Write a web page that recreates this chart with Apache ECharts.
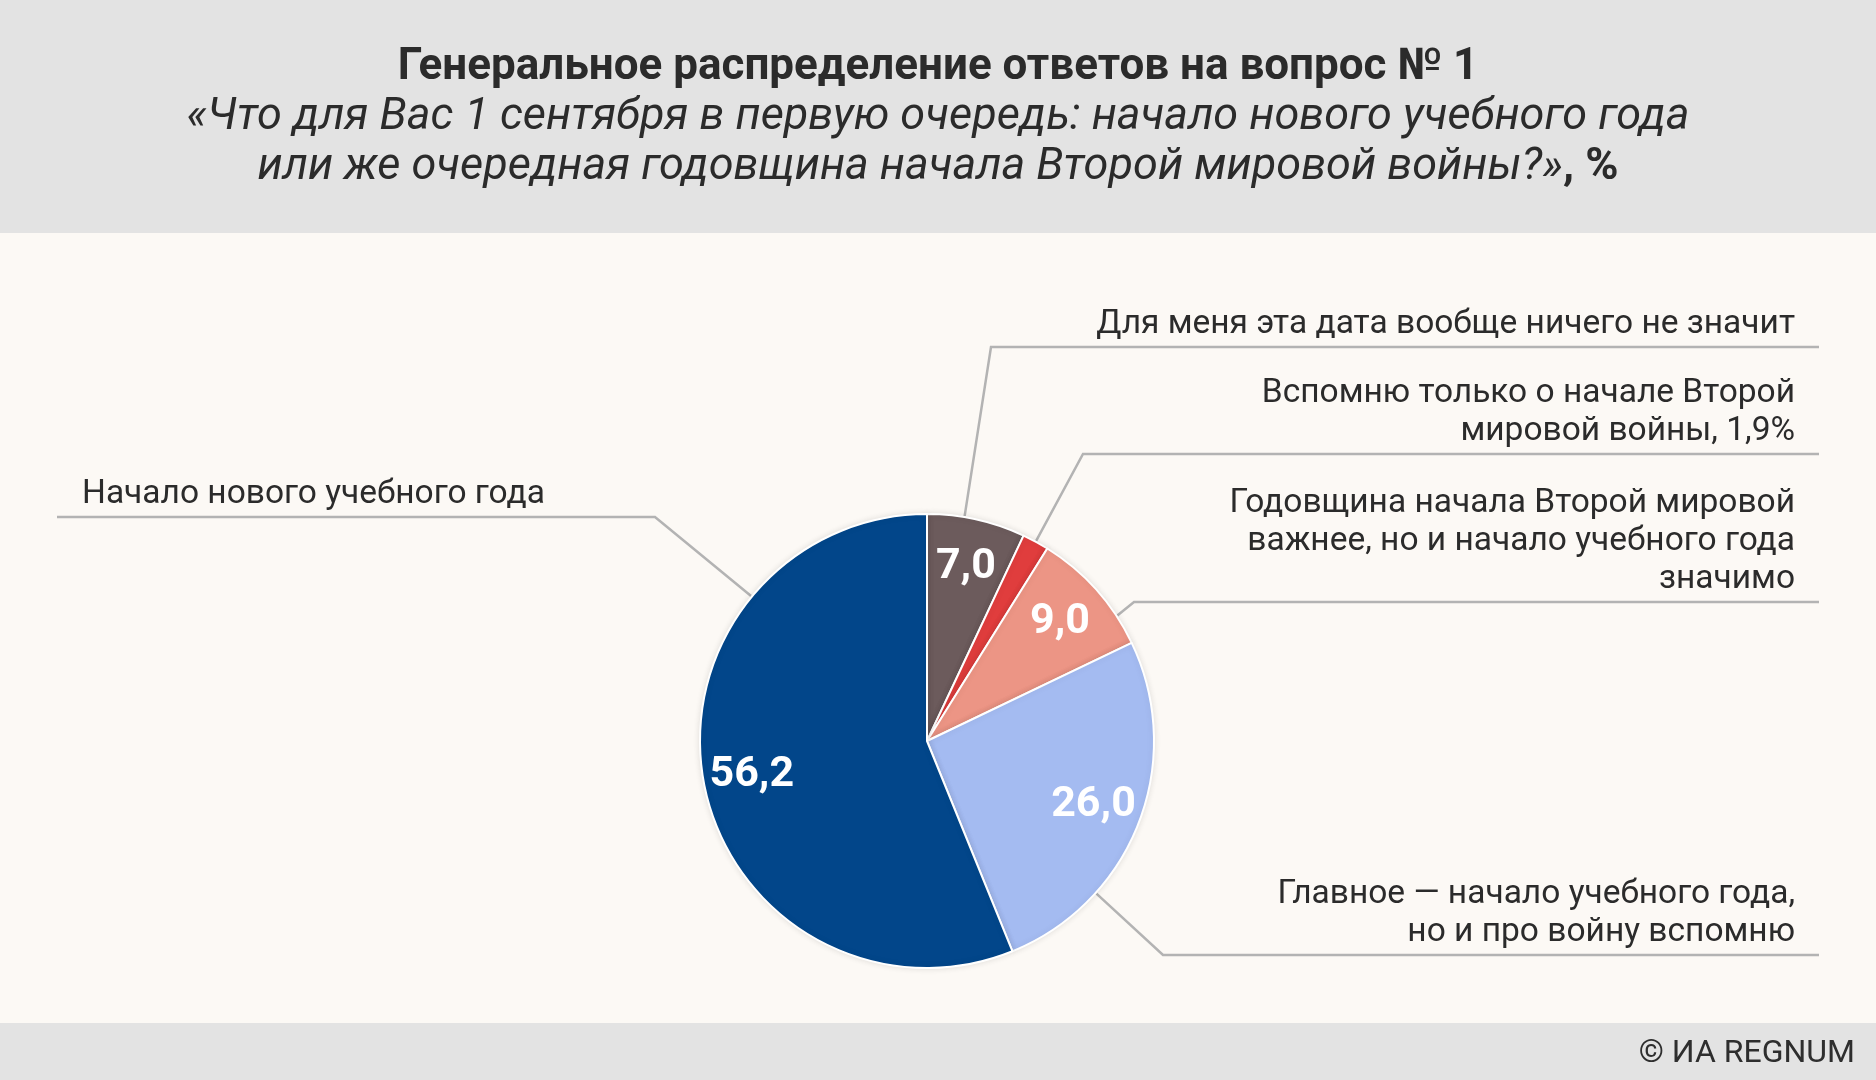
<!DOCTYPE html>
<html>
<head>
<meta charset="utf-8">
<script src="https://cdn.jsdelivr.net/npm/echarts@6/dist/echarts.min.js"></script>
<style>
html,body{margin:0;padding:0;background:#fcf9f5;}
#c{width:1876px;height:1080px;}
</style>
</head>
<body>
<div id="c"></div>
<script>
// ---------- DATA ----------
const CATEGORIES = [
  'Для меня эта дата вообще ничего не значит',
  'Вспомню только о начале Второй\nмировой войны',
  'Годовщина начала Второй мировой\nважнее, но и начало учебного года\nзначимо',
  'Главное — начало учебного года,\nно и про войну вспомню',
  'Начало нового учебного года'
];
const VALUES = [7.0, 1.9, 9.0, 26.0, 56.2];
const VALUE_INSIDE = [true, false, true, true, true];
const COLORS = ['#6c5b5c', '#e03d3d', '#ec9585', '#a4bbf1', '#02468a'];
const TITLE = 'Генеральное распределение ответов на вопрос № 1';
const SUBTITLE_1 = '«Что для Вас 1 сентября в первую очередь: начало нового учебного года';
const SUBTITLE_2 = 'или же очередная годовщина начала Второй мировой войны?»';
const SUBTITLE_UNIT = ', %';
const SOURCE = '© ИА REGNUM';

// ---------- LAYOUT ----------
const W = 1876, H = 1080;
const CENTER = [927, 741];
const R = 227;
const FONT = "Roboto, 'Noto Sans', sans-serif";
// leader lines: start angle on the rim (deg, clockwise from top), bend x, underline y
const LEADERS = [
  {angle: 9.5,   bendX: 991,  lineY: 347},
  {angle: 28.6,  bendX: 1083, lineY: 454},
  {angle: 56.6,  bendX: 1134, lineY: 602},
  {angle: 132,   bendX: 1163, lineY: 955},
  {angle: 309.5, bendX: 655,  lineY: 517}
];
const LINE_RIGHT = 1819, LINE_LEFT = 57, TEXT_RIGHT = 1795, TEXT_LEFT = 82, TEXT_GAP = 3;

function fmt(v) { return v.toFixed(1).replace('.', ','); }

const pieData = VALUES.map((v, i) => ({ value: v, name: CATEGORIES[i], itemStyle: { color: COLORS[i] } }));

const chart = echarts.init(document.getElementById('c'), null, { renderer: 'canvas', width: W, height: H });

chart.setOption({
  backgroundColor: '#fcf9f5',
  animation: false,
  graphic: [
    { type: 'rect', silent: true, z: -10, shape: { x: 0, y: 0, width: W, height: 233 }, style: { fill: '#e3e3e3' } },
    { type: 'rect', silent: true, z: -10, shape: { x: 0, y: 1023, width: W, height: H - 1023 }, style: { fill: '#e3e3e3' } },
    { type: 'text', x: 938, y: 68, style: { text: TITLE, fontFamily: FONT, fontWeight: 'bold', fontSize: 44, fill: '#2b2b2b', align: 'center', verticalAlign: 'middle' } },
    { type: 'text', x: 938, y: 118, style: { text: SUBTITLE_1, fontFamily: FONT, fontStyle: 'italic', fontSize: 45, fill: '#2b2b2b', align: 'center', verticalAlign: 'middle' } },
    { type: 'text', x: 938, y: 168, style: {
        text: '{i|' + SUBTITLE_2 + '}{b|' + SUBTITLE_UNIT + '}',
        align: 'center', verticalAlign: 'middle',
        rich: {
          i: { fontFamily: FONT, fontStyle: 'italic', fontSize: 45, fill: '#2b2b2b', color: '#2b2b2b' },
          b: { fontFamily: FONT, fontWeight: 'bold', fontSize: 45, fill: '#2b2b2b', color: '#2b2b2b' }
        } } },
    { type: 'text', x: 1855, y: 1054, style: { text: SOURCE, fontFamily: FONT, fontSize: 32, fill: '#2e2e2e', align: 'right', verticalAlign: 'middle' } }
  ],
  series: [
    {
      type: 'pie', center: CENTER, radius: [0, R], startAngle: 90, clockwise: true, silent: true,
      label: { show: false }, labelLine: { show: false },
      itemStyle: { borderColor: '#ffffff', borderWidth: 2, shadowBlur: 6, shadowColor: 'rgba(0,0,0,0.10)' },
      data: pieData
    },
    {
      type: 'pie', center: CENTER, radius: [124, R], startAngle: 90, clockwise: true, silent: true,
      itemStyle: { color: 'rgba(0,0,0,0)' },
      label: {
        show: true, position: 'inside', color: '#ffffff', fontFamily: FONT, fontWeight: 'bold', fontSize: 43,
        formatter: p => VALUE_INSIDE[p.dataIndex] ? fmt(p.value) : ''
      },
      labelLine: { show: false },
      data: VALUES.map((v, i) => ({ value: v, name: CATEGORIES[i] }))
    },
    {
      type: 'pie', center: CENTER, radius: [0, R], startAngle: 90, clockwise: true, silent: true,
      avoidLabelOverlap: false,
      itemStyle: { color: 'rgba(0,0,0,0)' },
      label: {
        show: true, position: 'outside', color: '#2b2b2b', fontFamily: FONT, fontSize: 33.5, lineHeight: 38,
        formatter: p => CATEGORIES[p.dataIndex] + (VALUE_INSIDE[p.dataIndex] ? '' : ', ' + fmt(p.value) + '%')
      },
      labelLine: { show: true, length: 20, length2: 20, lineStyle: { color: '#b3b3b3', width: 2.5 } },
      labelLayout: function (p) {
        const L = LEADERS[p.dataIndex];
        const isRight = L.bendX > CENTER[0];
        const a = L.angle * Math.PI / 180;
        const start = [CENTER[0] + (R + 1) * Math.sin(a), CENTER[1] - (R + 1) * Math.cos(a)];
        return {
          x: isRight ? TEXT_RIGHT : TEXT_LEFT,
          y: L.lineY - TEXT_GAP,
          align: isRight ? 'right' : 'left',
          verticalAlign: 'bottom',
          labelLinePoints: [start, [L.bendX, L.lineY], [isRight ? LINE_RIGHT : LINE_LEFT, L.lineY]]
        };
      },
      data: VALUES.map((v, i) => ({ value: v, name: CATEGORIES[i] }))
    }
  ]
});
</script>
</body>
</html>
